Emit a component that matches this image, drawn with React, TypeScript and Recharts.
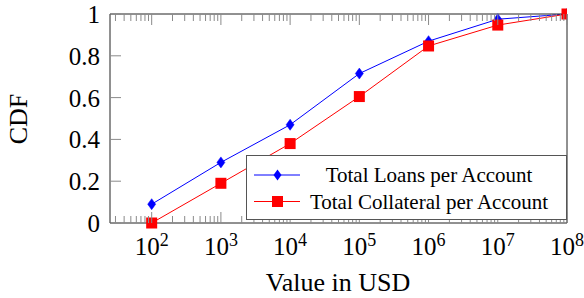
import React from 'react';
import { LineChart, Line, XAxis, YAxis, Legend } from 'recharts';

const exponents = [2, 3, 4, 5, 6, 7, 8];
const xValues = [1e2, 1e3, 1e4, 1e5, 1e6, 1e7, 1e8];
const loansCdf = [0.09, 0.29, 0.47, 0.715, 0.87, 0.975, 1.0];
const collateralCdf = [0.0, 0.19, 0.38, 0.605, 0.847, 0.947, 1.0];
const yTicks = [0, 0.2, 0.4, 0.6, 0.8, 1];
const yTickLabels = ['0', '0.2', '0.4', '0.6', '0.8', '1'];

const FONT = '"Liberation Serif", "Times New Roman", serif';
const TICK_COLOR = '#8a8a8a';
const FRAME_COLOR = '#222';

// minor ticks 2..9 x 10^k, kept inside the domain
const minorTicks: number[] = [];
for (let k = 1; k <= 7; k++) {
  for (let m = 2; m <= 9; m++) {
    const v = m * Math.pow(10, k);
    if (v >= 30) minorTicks.push(v);
  }
}
const allXTicks = [...xValues, ...minorTicks].sort((a, b) => a - b);

const chartData = xValues.map((x, i) => ({
  x,
  loans: loansCdf[i],
  collateral: collateralCdf[i]
}));

const isMajor = (v: number) => {
  const l = Math.log10(v);
  return Math.abs(l - Math.round(l)) < 1e-9;
};

const BottomTick = (props: any) => {
  const { x, y, payload } = props;
  const v = payload.value;
  const major = isMajor(v);
  const exp = Math.round(Math.log10(v));
  return (
    <g>
      <line x1={x} y1={y} x2={x} y2={y - (major ? 11 : 7)} stroke={TICK_COLOR} strokeWidth={1} />
      {major && exponents.includes(exp) && (
        <text x={x} y={y + 32} textAnchor="middle" fontFamily={FONT} fontSize={25} fill="#000">
          10
          <tspan dy={-9} fontSize={18}>{exp}</tspan>
        </text>
      )}
    </g>
  );
};

const TopTick = (props: any) => {
  const { x, y, payload } = props;
  const major = isMajor(payload.value);
  return <line x1={x} y1={y} x2={x} y2={y + (major ? 11 : 7)} stroke={TICK_COLOR} strokeWidth={1} />;
};

const LeftTick = (props: any) => {
  const { x, y, payload, index } = props;
  return (
    <g>
      <line x1={x} y1={y} x2={x + 11} y2={y} stroke={TICK_COLOR} strokeWidth={1} />
      <text x={x - 10} y={y + 9} textAnchor="end" fontFamily={FONT} fontSize={25} fill="#000">
        {yTickLabels[yTicks.indexOf(payload.value)] ?? yTickLabels[index]}
      </text>
    </g>
  );
};

const RightTick = (props: any) => {
  const { x, y } = props;
  return <line x1={x} y1={y} x2={x - 11} y2={y} stroke={TICK_COLOR} strokeWidth={1} />;
};

const Diamond = (props: any) => {
  const { cx, cy, index } = props;
  if (cx == null || cy == null) return <g key={`d-${index}`} />;
  return (
    <path
      key={`d-${index}`}
      d={`M${cx},${cy - 5.5} L${cx + 4},${cy} L${cx},${cy + 5.5} L${cx - 4},${cy} Z`}
      fill="#0000ff"
      stroke="#0000ff"
      strokeWidth={0.5}
    />
  );
};

const Square = (props: any) => {
  const { cx, cy, index } = props;
  if (cx == null || cy == null) return <g key={`s-${index}`} />;
  return <rect key={`s-${index}`} x={cx - 5.5} y={cy - 5.5} width={11} height={11} fill="#ff0000" />;
};

const XLabel = () => (
  <text x={338} y={291} textAnchor="middle" fontFamily={FONT} fontSize={26} fill="#000">
    Value in USD
  </text>
);

const YLabel = () => (
  <text
    x={27}
    y={119}
    textAnchor="middle"
    transform="rotate(-90 27 119)"
    fontFamily={FONT}
    fontSize={26}
    fill="#000"
  >
    CDF
  </text>
);

const LegendBox = () => (
  <svg width={321} height={65} style={{ display: 'block' }}>
    <rect x={0.5} y={0.5} width={320} height={64} fill="#fff" stroke="#555" strokeWidth={1} />
    <line x1={8} y1={20} x2={54} y2={20} stroke="#0000ff" strokeWidth={1} />
    <path d="M31.5,14.5 L35.5,20 L31.5,25.5 L27.5,20 Z" fill="#0000ff" />
    <text x={183} y={27} textAnchor="middle" fontFamily={FONT} fontSize={21} fill="#000">
      Total Loans per Account
    </text>
    <line x1={8} y1={46.5} x2={54} y2={46.5} stroke="#ff0000" strokeWidth={1} />
    <rect x={26} y={41} width={11} height={11} fill="#ff0000" />
    <text x={183} y={53.5} textAnchor="middle" fontFamily={FONT} fontSize={21} fill="#000">
      Total Collateral per Account
    </text>
  </svg>
);

export default function App() {
  return (
    <div style={{ position: 'absolute', left: 0, top: 0, width: 584, height: 298, background: '#fff' }}>
      <LineChart
        width={584}
        height={298}
        data={chartData}
        margin={{ top: 13, right: 16, bottom: 74, left: 109 }}
      >
        <XAxis
          xAxisId="bottom"
          dataKey="x"
          type="number"
          scale="log"
          domain={[25, 1e8]}
          allowDataOverflow
          ticks={allXTicks}
          interval={0}
          height={1}
          tickSize={0}
          tickMargin={0}
          tickLine={false}
          axisLine={{ stroke: FRAME_COLOR, strokeWidth: 1 }}
          tick={<BottomTick />}
          label={<XLabel />}
        />
        <XAxis
          xAxisId="top"
          orientation="top"
          dataKey="x"
          type="number"
          scale="log"
          domain={[25, 1e8]}
          allowDataOverflow
          ticks={allXTicks}
          interval={0}
          height={1}
          tickSize={0}
          tickMargin={0}
          tickLine={false}
          axisLine={{ stroke: FRAME_COLOR, strokeWidth: 1 }}
          tick={<TopTick />}
        />
        <YAxis
          yAxisId="left"
          type="number"
          domain={[0, 1]}
          ticks={yTicks}
          interval={0}
          width={1}
          tickSize={0}
          tickMargin={0}
          tickLine={false}
          axisLine={{ stroke: FRAME_COLOR, strokeWidth: 1 }}
          tick={<LeftTick />}
          label={<YLabel />}
        />
        <YAxis
          yAxisId="right"
          orientation="right"
          type="number"
          domain={[0, 1]}
          ticks={yTicks}
          interval={0}
          width={1}
          tickSize={0}
          tickMargin={0}
          tickLine={false}
          axisLine={{ stroke: FRAME_COLOR, strokeWidth: 1 }}
          tick={<RightTick />}
        />
        <Line
          xAxisId="bottom"
          yAxisId="left"
          type="linear"
          dataKey="loans"
          name="Total Loans per Account"
          stroke="#0000ff"
          strokeWidth={1}
          dot={Diamond}
          activeDot={false}
          isAnimationActive={false}
        />
        <Line
          xAxisId="bottom"
          yAxisId="left"
          type="linear"
          dataKey="collateral"
          name="Total Collateral per Account"
          stroke="#ff0000"
          strokeWidth={1}
          dot={Square}
          activeDot={false}
          isAnimationActive={false}
        />
        <Legend
          layout="vertical"
          align="center"
          verticalAlign="middle"
          content={<LegendBox />}
          wrapperStyle={{ left: 246, top: 155, width: 321, height: 65 }}
        />
      </LineChart>
    </div>
  );
}
